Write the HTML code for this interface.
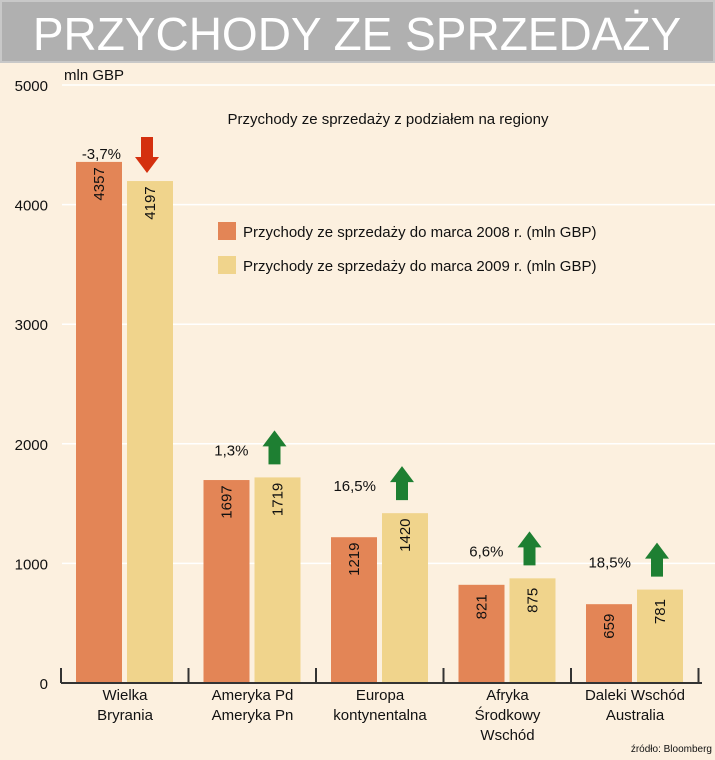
<!DOCTYPE html>
<html><head><meta charset="utf-8"><style>
body{margin:0;width:715px;height:760px;background:#fcf0df;font-family:"Liberation Sans",sans-serif;overflow:hidden}
</style></head><body>
<svg width="715" height="760" style="display:block">
<rect x="0" y="0" width="715" height="760" fill="#fcf0df"/>
<rect x="1" y="1" width="713" height="61" fill="#b0b0b0" stroke="#c8c8c8" stroke-width="2"/>
<text x="357" y="50" text-anchor="middle" font-size="46" fill="#fff">PRZYCHODY ZE SPRZEDAŻY</text>
<text x="64" y="80" font-size="15" fill="#111">mln GBP</text>
<text x="388" y="124" text-anchor="middle" font-size="15" fill="#111">Przychody ze sprzedaży z podziałem na regiony</text>
<g id="grid"></g><g id="bars"></g><g id="ann"></g><g id="axis"></g>
<rect x="218" y="222" width="18" height="18" fill="#e38556"/>
<text x="243" y="237" font-size="15" fill="#111">Przychody ze sprzedaży do marca 2008 r. (mln GBP)</text>
<rect x="218" y="256" width="18" height="18" fill="#f0d48c"/>
<text x="243" y="271" font-size="15" fill="#111">Przychody ze sprzedaży do marca 2009 r. (mln GBP)</text>
<text x="712" y="752" text-anchor="end" font-size="10" fill="#111">źródło: Bloomberg</text>
</svg>
<script>
const categories=[["Wielka","Bryrania"],["Ameryka Pd","Ameryka Pn"],["Europa","kontynentalna"],["Afryka","Środkowy","Wschód"],["Daleki Wschód","Australia"]];
const values2008=[4357,1697,1219,821,659];
const values2009=[4197,1719,1420,875,781];
const changes=["-3,7%","1,3%","16,5%","6,6%","18,5%"];
const yTicks=[0,1000,2000,3000,4000,5000];
const NS="http://www.w3.org/2000/svg";
function y(v){return 683-v*0.1196;}
function gx(i){return 61+i*127.5;}
function mk(tag,attrs,parent,txt){const e=document.createElementNS(NS,tag);for(const k in attrs)e.setAttribute(k,attrs[k]);if(txt!==undefined)e.textContent=txt;document.getElementById(parent).appendChild(e);return e;}
yTicks.forEach(t=>{
  if(t>0){const l=mk('line',{x1:62,x2:715,y1:y(t),y2:y(t),stroke:'#fff','stroke-width':1.5},'grid');
  
  }
  const tx=mk('text',{x:48,y:y(t)+6,'text-anchor':'end','font-size':15,fill:'#111'},'axis',String(t));
  
  
});
const ax=mk('line',{x1:61,x2:702,y1:683,y2:683,stroke:'#333','stroke-width':2},'axis');


for(let i=0;i<=5;i++){const tk=mk('line',{x1:gx(i),x2:gx(i),y1:668,y2:683,stroke:'#333','stroke-width':2},'axis');

}
categories.forEach((c,i)=>{
  const x0=gx(i)+15,x1=gx(i)+66,w=46;
  [[values2008[i],x0,'#e38556','bar-2008'],[values2009[i],x1,'#f0d48c','bar-2009']].forEach(([v,x,col,nm])=>{
    const r=mk('rect',{x:x,y:y(v),width:w,height:683-y(v),fill:col},'bars');
    
    
    const cy=y(v)+22;
    const t=mk('text',{x:0,y:0,'text-anchor':'middle','font-size':15,fill:'#111',transform:`translate(${x+w/2+5},${cy}) rotate(-90)`},'bars',String(v));
    
    
  });
  c.forEach((ln,j)=>{const t=mk('text',{x:gx(i)+64,y:700+j*20,'text-anchor':'middle','font-size':15,fill:'#111'},'axis',ln);
    
    });
  const top=y(values2009[i]);
  const ct=mk('text',{x:x1-6,y:top-22,'text-anchor':'end','font-size':15,fill:'#111'},'ann',changes[i]);
  
  
  const cx=x1+20, down=changes[i].startsWith('-');
  let pts;
  if(down){const b=top-8,t0=b-36;pts=`${cx-6},${t0} ${cx+6},${t0} ${cx+6},${b-16} ${cx+12},${b-16} ${cx},${b} ${cx-12},${b-16} ${cx-6},${b-16}`;}
  else{const b=top-13,t0=b-34;pts=`${cx-6},${b} ${cx+6},${b} ${cx+6},${t0+16} ${cx+12},${t0+16} ${cx},${t0} ${cx-12},${t0+16} ${cx-6},${t0+16}`;}
  const a=mk('polygon',{points:pts,fill:down?'#d4300f':'#1e7f32'},'ann');
  
  
});
</script>
</body></html>
